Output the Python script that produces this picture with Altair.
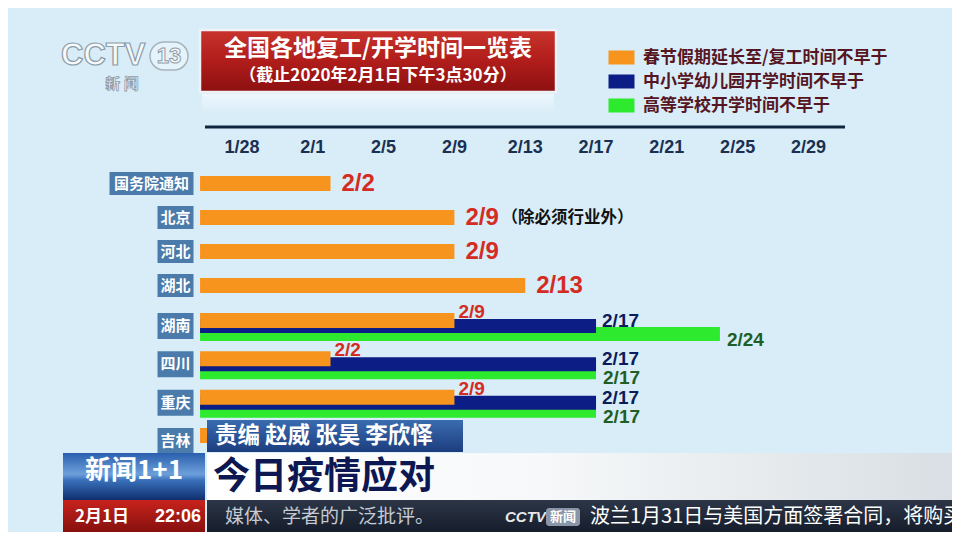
import altair as alt
import pandas as pd

# ---------------- data ----------------
categories = ["国务院通知", "北京", "河北", "湖北", "湖南", "四川", "重庆", "吉林"]
work_dates = ["2/2", "2/9", "2/9", "2/13", "2/9", "2/2", "2/9", "2/2"]
school_dates = ["", "", "", "", "2/17", "2/17", "2/17", ""]
college_dates = ["", "", "", "", "2/24", "2/17", "2/17", ""]
notes = ["", "（除必须行业外）", "", "", "", "", "", ""]
series_names = ["春节假期延长至/复工时间不早于", "中小学幼儿园开学时间不早于", "高等学校开学时间不早于"]
tick_labels = ["1/28", "2/1", "2/5", "2/9", "2/13", "2/17", "2/21", "2/25", "2/29"]

title_text = "全国各地复工/开学时间一览表"
subtitle_text = "（截止2020年2月1日下午3点30分）"

# ---------------- style / layout ----------------
series_colors = ["#f7941d", "#0c1d85", "#2eea2e"]
label_colors = ["#d42b22", "#0d1b5a", "#1f5f25"]
CJK = "Noto Sans CJK SC"
LAT = "Liberation Sans"
W, H = 944, 524
X_DOMAIN = [-13.22, 40.11]
PX_PER_DAY = W / (X_DOMAIN[1] - X_DOMAIN[0])
BAR_START = -2.37
BOX_RIGHT = -2.74
UPPER_N = 4


def day(s):
    m, d = s.split("/")
    return (pd.Timestamp(2020, int(m), int(d)) - pd.Timestamp(2020, 1, 28)).days


rows = []
for i, cat in enumerate(categories):
    grp = "upper" if i < UPPER_N else "lower"
    for k, dates in enumerate([work_dates, school_dates, college_dates]):
        if dates[i]:
            rows.append(dict(cat=cat, series=series_names[k], k=k, start=BAR_START,
                             end=day(dates[i]), label=dates[i], group=grp,
                             note=notes[i] if k == 0 else ""))
df = pd.DataFrame(rows)
df_up = df[df.group == "upper"]
df_lo = df[df.group == "lower"]
cats_up = pd.DataFrame({"cat": categories[:UPPER_N]})
cats_lo = pd.DataFrame({"cat": categories[UPPER_N:]})
ticks_df = pd.DataFrame({"label": tick_labels, "day": [day(t) for t in tick_labels]})
one = pd.DataFrame({"a": [0]})

xs = alt.Scale(domain=X_DOMAIN, nice=False, zero=False)

color_enc = alt.Color(
    "series:N",
    scale=alt.Scale(domain=series_names, range=series_colors),
    legend=alt.Legend(
        title=None, orient="none", legendX=605, legendY=41,
        symbolType="M-1.857,-1H1.857V1H-1.857Z", symbolSize=196,
        symbolStrokeWidth=0, symbolOpacity=1,
        labelFont=CJK, labelFontSize=17, labelFontWeight="bold",
        labelColor="#561522", labelOffset=13, rowPadding=6, padding=0,
        labelLimit=400,
    ),
)


def boxes(cats, yenc, h):
    base = alt.Chart(cats).transform_calculate(
        bl=f"{BOX_RIGHT} - (16*length(datum.cat)+4)/{PX_PER_DAY}",
        br=f"{BOX_RIGHT}",
    ).transform_calculate(bc="(datum.bl + datum.br)/2")
    b = base.mark_bar(height=h, color="#4a7bab").encode(
        x=alt.X("bl:Q", scale=xs, axis=None), x2="br:Q", y=yenc)
    t = base.mark_text(font=CJK, fontSize=15, fontWeight="bold", color="#ffffff").encode(
        x=alt.X("bc:Q", scale=xs, axis=None), y=yenc, text="cat:N")
    return [b, t]


# ---------- upper group (one bar per row) ----------
y_up = alt.Y("cat:N", sort=categories[:UPPER_N],
             scale=alt.Scale(domain=categories[:UPPER_N], range=[158.5, 294.5],
                             paddingInner=0, paddingOuter=0), axis=None)
up_bars = alt.Chart(df_up).mark_bar(height=15).encode(
    x=alt.X("start:Q", scale=xs, axis=None), x2="end:Q", y=y_up, color=color_enc)
up_labels = alt.Chart(df_up).mark_text(
    align="left", baseline="middle", dx=11, font=LAT, fontSize=24, fontWeight="bold",
    color=label_colors[0]).encode(x=alt.X("end:Q", scale=xs, axis=None), y=y_up, text="label:N")
up_notes = alt.Chart(df_up).transform_filter("datum.note != ''").mark_text(
    align="left", baseline="middle", dx=47, font=CJK, fontSize=16.5, fontWeight="bold",
    color="#111111").encode(x=alt.X("end:Q", scale=xs, axis=None), y=y_up, text="note:N")
upper = alt.layer(*boxes(cats_up, y_up, 23), up_bars, up_labels, up_notes)

# ---------- lower group (up to three bars per row) ----------
y_lo = alt.Y("cat:N", sort=categories[UPPER_N:],
             scale=alt.Scale(domain=categories[UPPER_N:], range=[298.8, 452.2],
                             paddingInner=0, paddingOuter=0), axis=None)
bar_style = {0: dict(height=15, yOffset=-5.5), 1: dict(height=14, yOffset=0), 2: dict(height=14, yOffset=8)}
lab_style = {0: dict(dx=4, dy=-14), 1: dict(dx=6, dy=-5), 2: dict(dx=7, dy=14)}
lo_layers = boxes(cats_lo, y_lo, 26)
for k in [2, 1, 0]:
    lo_layers.append(alt.Chart(df_lo).transform_filter(f"datum.k == {k}").mark_bar(**bar_style[k]).encode(
        x=alt.X("start:Q", scale=xs, axis=None), x2="end:Q", y=y_lo, color=color_enc))
for k in [0, 1, 2]:
    lo_layers.append(alt.Chart(df_lo).transform_filter(f"datum.k == {k}").mark_text(
        align="left", baseline="middle", font=LAT, fontSize=19, fontWeight="bold",
        color=label_colors[k], **lab_style[k]).encode(
        x=alt.X("end:Q", scale=xs, axis=None), y=y_lo, text="label:N"))
lower = alt.layer(*lo_layers)

# ---------- top axis ----------
axis_line = alt.Chart(one).mark_rule(color="#10263f", strokeWidth=3).encode(
    x=alt.value(197), x2=alt.value(837), y=alt.value(119))
tick_text = alt.Chart(ticks_df).mark_text(
    font=LAT, fontSize=18, fontWeight="bold", color="#1b3050", baseline="middle").encode(
    x=alt.X("day:Q", scale=xs, axis=None), y=alt.value(140), text="label:N")


def grad(stops, horizontal=False):
    return alt.Gradient(
        gradient="linear",
        stops=[alt.GradientStop(offset=o, color=c) for o, c in stops],
        x1=0, y1=0, x2=1 if horizontal else 0, y2=0 if horizontal else 1)


def rect(x, x2, y, y2, **kw):
    return alt.Chart(one).mark_rect(**kw).encode(
        x=alt.value(x), x2=alt.value(x2), y=alt.value(y), y2=alt.value(y2))


def txt(s, x, y, **kw):
    return alt.Chart(one).mark_text(text=s, baseline="middle", **kw).encode(
        x=alt.value(x), y=alt.value(y))


# ---------- header ----------
header = [
    rect(192, 548, 22, 84, fill=grad([(0, "#c8342c"), (0.5, "#b01d1b"), (1, "#8c1010")]),
         stroke="#eef2f5", strokeWidth=2.5),
    rect(194, 546, 86, 106, fill=grad([(0, "rgba(255,255,255,0.55)"), (1, "rgba(255,255,255,0)")])),
    txt(title_text, 370, 41, font=CJK, fontSize=23, fontWeight="bold", color="#ffffff", align="center"),
    txt(subtitle_text, 370, 68, font=CJK, fontSize=17, fontWeight="bold", color="#ffffff", align="center"),
    # channel logo
    txt("CCTV", 53, 48, font=LAT, fontSize=31, fontWeight="bold", fill="#f5f9fc",
        stroke="#8e9ca8", strokeWidth=1.2, align="left"),
    rect(142, 180, 34, 62, fill="rgba(255,255,255,0.35)", stroke="#a7b3bd", strokeWidth=1.5, cornerRadius=14),
    txt("13", 161, 48, font=LAT, fontSize=22, fontWeight="bold", fill="#f5f9fc",
        stroke="#8e9ca8", strokeWidth=1, align="center"),
    txt("新  闻", 114, 76, font=CJK, fontSize=15, fontWeight="bold", fill="#f5f9fc",
        stroke="#8e9ca8", strokeWidth=0.8, align="center"),
]

# ---------- bottom banners ----------
banners = [
    rect(199, 455, 412, 444, fill=grad([(0, "#3a6cb0"), (1, "#1c3d7e")])),
    txt("责编 赵威 张昊 李欣怿", 207, 428, font=CJK, fontSize=22.5, fontWeight="bold", color="#ffffff", align="left"),
    rect(55, 197, 445, 492, fill=grad([(0, "#2a5fae"), (0.45, "#6da0da"), (0.58, "#3a70bb"), (1, "#0f2f6e")])),
    txt("新闻1+1", 126, 463, font=CJK, fontSize=26, fontWeight="bold", color="#ffffff", align="center"),
    rect(199, 944, 445, 492, fill=grad([(0, "#ffffff"), (0.45, "#f6f8f9"), (1, "#d9dfe4")], horizontal=True)),
    txt("今日疫情应对", 205, 470, font=CJK, fontSize=37, fontWeight="bold", color="#0d1852", align="left"),
    rect(55, 197, 492, 530, fill=grad([(0, "#c8231c"), (1, "#7a0c0c")])),
    txt("2月1日", 67, 509, font=CJK, fontSize=17, fontWeight="bold", color="#ffffff", align="left"),
    txt("22:06", 193, 509, font=LAT, fontSize=18, fontWeight="bold", color="#ffffff", align="right"),
    rect(199, 944, 492, 530, fill=grad([(0, "#2d3647"), (1, "#111826")])),
    txt("媒体、学者的广泛批评。", 217, 509, font=CJK, fontSize=19, color="#c5cad3", align="left"),
    txt("CCTV", 497, 509, font=LAT, fontSize=15, fontWeight="bold", fontStyle="italic", color="#e8e8e8", align="left"),
    rect(538, 572, 500, 518, fill="#8a96a8", cornerRadius=3),
    txt("新闻", 555, 509, font=CJK, fontSize=13, fontWeight="bold", color="#ffffff", align="center"),
    txt("波兰1月31日与美国方面签署合同，将购买", 582, 509, font=CJK, fontSize=20, color="#ffffff", align="left"),
]

chart = alt.layer(
    *header, axis_line, tick_text, upper, lower, *banners
).resolve_scale(y="independent").properties(
    width=W, height=H, padding=0,
    autosize=alt.AutoSizeParams(type="none"),
).configure(background="#d8edf8").configure_view(stroke=None)

chart.save("out.html", embed_options={"renderer": "svg", "actions": False})
